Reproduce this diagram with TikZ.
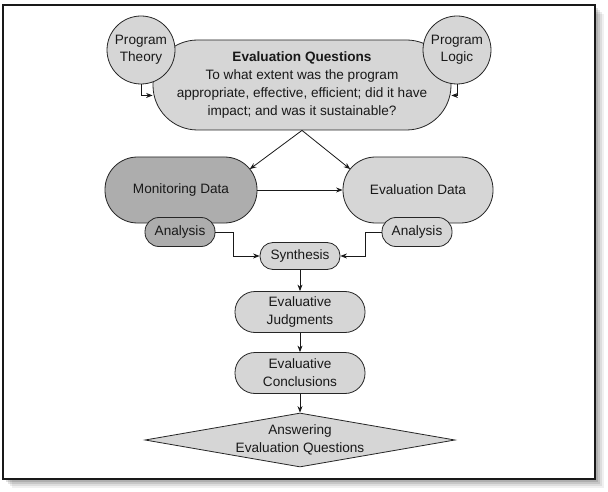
\documentclass[tikz,border=0pt]{standalone}
\usepackage{fontspec}
\setmainfont{Liberation Sans}
\usetikzlibrary{shapes.geometric,arrows.meta,calc}
\definecolor{lightfill}{gray}{0.84}
\definecolor{darkfill}{gray}{0.68}
\begin{document}
\begin{tikzpicture}[x=1pt,y=-1pt,
		pill/.style={rectangle,rounded corners=#1,draw=black!85,line width=.8pt,fill=lightfill,inner sep=0pt,align=center,font=\fontsize{13.6}{18}\selectfont,text=black!90},
		dark/.style={fill=darkfill},
		circ/.style={circle,draw=black!85,line width=.8pt,fill=lightfill,minimum size=68pt,inner sep=0pt,align=center,font=\fontsize{13.6}{17}\selectfont,text=black!90},
		arr/.style={-{Stealth[length=6.5pt,width=5pt]},line width=.8pt,black!90}]
		\useasboundingbox (0,0) rectangle (608,492);
		\foreach \s/\o in {9/.06,7/.08,5/.1,3/.12}
			\fill[black,opacity=\o] (3+\s,5+\s) rectangle (595+\s,479+\s);
		\fill[white] (3,5) rectangle (595,479);
		\draw[line width=1.2pt,black!90] (3,5) rectangle (595,479);

		\node[pill=44.5pt,minimum width=298pt,minimum height=90pt] (eq) at (302,85) {\textbf{Evaluation Questions}\\To what extent was the program\\appropriate, effective, efficient; did it have\\impact; and was it sustainable?};
		\node[circ] (pt) at (141,50) {Program\\Theory};
		\node[circ] (pl) at (457,50) {Program\\Logic};

		\node[pill=32.5pt,dark,minimum width=152pt,minimum height=66pt] (mon) at (181,190) {Monitoring Data};
		\node[pill=32.5pt,minimum width=150pt,minimum height=66pt] (evd) at (418,190) {Evaluation Data};
		\node[pill=14pt,dark,minimum width=70pt,minimum height=29pt] (anl) at (180,232) {Analysis};
		\node[pill=14pt,minimum width=70pt,minimum height=29pt] (anr) at (417,232) {Analysis};
		\node[pill=13pt,minimum width=80pt,minimum height=27pt] (syn) at (300,256) {Synthesis};

		\node[pill=20pt,minimum width=130pt,minimum height=41pt] (jud) at (300,312) {Evaluative\\Judgments};
		\node[pill=20pt,minimum width=130pt,minimum height=41pt] (con) at (300,373) {Evaluative\\Conclusions};
		\node[diamond,draw=black!85,line width=.8pt,fill=lightfill,minimum width=310pt,minimum height=54pt,inner sep=0pt] (ans) at (300,440) {};
		\node[align=center,font=\fontsize{13.6}{18}\selectfont,text=black!90] (anst) at (ans) {Answering\\Evaluation Questions};

		\draw[arr] (pt.south) |- (eq.184);
		\draw[arr] (pl.south) |- (eq.-4);
		\draw[arr] (eq.south) -- ($(mon.east)+(-7.6,-20.9)$);
		\draw[arr] (eq.south) -- ($(evd.west)+(7.6,-20.9)$);
		\draw[arr] (mon.east) -- (evd.west);
		\draw[arr] (anl.east) -- ++(18,0) |- (syn.west);
		\draw[arr] (anr.west) -- ++(-16,0) |- (syn.east);
		\draw[arr] (syn) -- (jud);
		\draw[arr] (jud) -- (con);
		\draw[arr] (con) -- (ans);
	\end{tikzpicture}
\end{document}
